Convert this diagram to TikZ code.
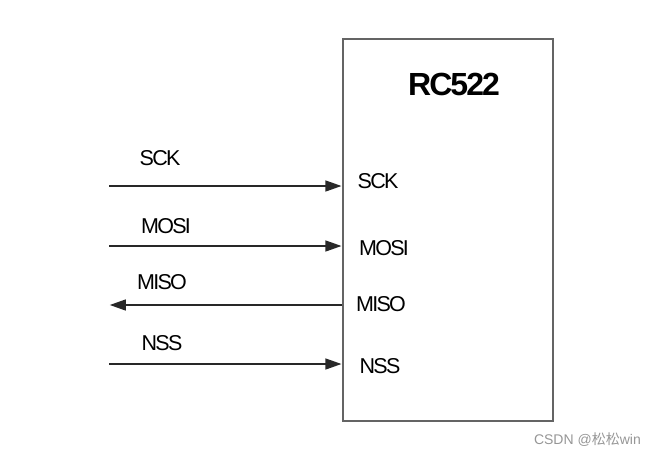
\documentclass[tikz,border=0pt]{standalone}
\usepackage{fontspec}
\setmainfont{Liberation Sans}
\newfontfamily\cjk{Noto Sans CJK SC}
\usetikzlibrary{positioning,arrows.meta}
\definecolor{cLine}{RGB}{40,40,40}
\definecolor{cBox} {RGB}{100,100,100}
\definecolor{cMark}{RGB}{150,150,150}
\tikzset{
  chip/.style    = {draw=cBox, line width=1.5pt, minimum width=210pt,
                    minimum height=382pt, inner sep=0pt},
  chipname/.style= {font=\fontsize{32}{32}\selectfont\bfseries\addfontfeatures{LetterSpace=-6}},
  pinlbl/.style  = {font=\fontsize{21.5}{21.5}\selectfont\addfontfeatures{LetterSpace=-8},
                    inner sep=0pt},
  sig/.style     = {-{Triangle[length=16pt,width=11pt]}, cLine, line width=1.3pt,
                    shorten >=0.8pt},
  wmark/.style   = {font=\fontsize{14}{14}\selectfont, text=cMark, inner sep=0pt},
}
\begin{document}
\begin{tikzpicture}[x=1pt,y=-1pt]
  \useasboundingbox (0,0) rectangle (657,456);

  %% ---------------- chip -------------------------------------------
  \node[chip] (rc) at (448,230) {};
  \node[chipname] (name) at (454,84) {RC522};

  %% ---------------- pins inside the chip ---------------------------
  \node[pinlbl] (sckI)  at (378,181) {SCK};
  \node[pinlbl] (mosiI) at (384,248) {MOSI};
  \node[pinlbl] (misoI) at (381,304) {MISO};
  \node[pinlbl] (nssI)  at (380,366) {NSS};

  %% ---------------- outer labels -----------------------------------
  \node[pinlbl] (sckO)  at (160,158) {SCK};
  \node[pinlbl] (mosiO) at (166,226) {MOSI};
  \node[pinlbl] (misoO) at (162,282) {MISO};
  \node[pinlbl] (nssO)  at (162,343) {NSS};

  %% ---------------- signal lines -----------------------------------
  \coordinate (sckL)  at (109,186);
  \coordinate (mosiL) at (109,246);
  \coordinate (misoL) at (109,305);
  \coordinate (nssL)  at (109,364);
  \draw[sig] (sckL)  -- (sckL -| rc.west);
  \draw[sig] (mosiL) -- (mosiL -| rc.west);
  \draw[sig] (misoL -| rc.west) -- (misoL);
  \draw[sig] (nssL)  -- (nssL -| rc.west);

  \node[wmark, anchor=east] (mark) at (641,440) {CSDN @{\cjk 松松}win};
\end{tikzpicture}
\end{document}
